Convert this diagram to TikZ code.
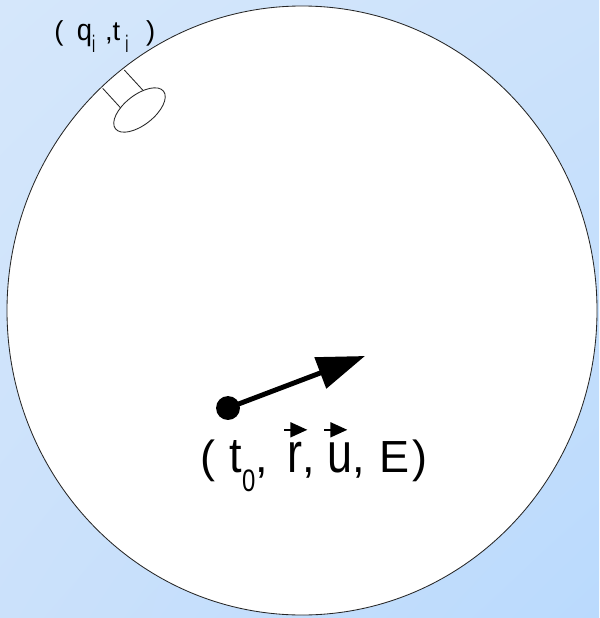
\documentclass[tikz,border=0pt]{standalone}
\usepackage{fontspec}
\setmainfont{Liberation Sans}
\usepackage{graphicx}
\usetikzlibrary{arrows.meta,shadings}

\definecolor{skyUL}{RGB}{213,231,251}
\definecolor{skyUR}{RGB}{204,226,251}
\definecolor{skyLL}{RGB}{203,225,251}
\definecolor{skyLR}{RGB}{186,218,253}

% lowered, stretched index: {text}{size}{stretch}{drop}
\newcommand{\lowidx}[4]{\raisebox{-#4}{\scalebox{1}[#3]{\fontsize{#2}{#2}\selectfont #1}}}
% tall lowercase letter
\newcommand{\tall}[2]{\scalebox{1}[#1]{#2}}
% letter with a small arrow on top
\newcommand{\vecmark}[1]{\rlap{\tikz[overlay,baseline=0pt,x=1pt,y=1pt]{\draw[line width=1.2pt] (-2.5,30) -- (2.5,30); \fill (2,24.5) -- (14,30) -- (2,35.5) -- cycle;}}#1}

\begin{document}
\begin{tikzpicture}[x=0.025cm,y=-0.025cm,
    outline/.style={draw=black!85,line width=0.6pt},
    label/.style={anchor=base west,inner sep=0pt},
    vecarrow/.style={line width=3.5pt,-{Triangle[length=34pt,width=23pt]}}]

    % background
    \useasboundingbox (0,0) rectangle (599,618);
    \shade[upper left=skyUL,upper right=skyUR,lower left=skyLL,lower right=skyLR] (0,0) rectangle (599,618);

    % volume
    \draw[outline,fill=white] (302,310.5) ellipse [x radius=295,y radius=304.5];

    % detector on the wall
    \draw[outline] (102.7,88.3) -- (123,110.5);
    \draw[outline] (124.3,70) -- (145,92.5);
    \draw[outline,fill=white] (139.5,110) ellipse [x radius=30.5,y radius=15,rotate=38];
    \node[label,font=\fontsize{19.5}{19.5}\selectfont] (hit) at (54,40)
        {( \hspace{4.2pt}\tall{1.1}{q}\lowidx{i}{10}{1.7}{9pt} \hspace{1.5pt},t\hspace{3.6pt}\lowidx{i}{10}{1.7}{9pt}\ \ \hspace{1.8pt})};

    % start point + direction
    \coordinate (tip) at (365,356);
    \node[circle,fill,inner sep=0pt,minimum size=17pt] (origin) at (228,408) {};
    \draw[vecarrow] (origin.center) -- (tip);
    \node[label,font=\fontsize{32}{32}\selectfont] (state) at (200,472)
        {( \hspace{1.4pt}\tall{1.1}{t}\lowidx{0}{17}{1.3}{14pt}, \hspace{5pt}\vecmark{\tall{1.25}{r}}, \vecmark{\tall{1.25}{u}}, \hspace{1.4pt}E\hspace{2pt})};

\end{tikzpicture}
\end{document}
